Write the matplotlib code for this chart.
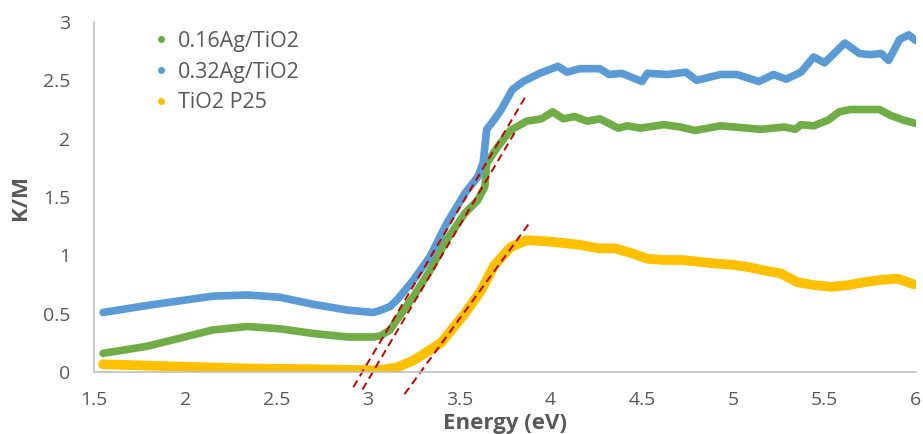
import matplotlib.pyplot as plt
from matplotlib.lines import Line2D

plt.rcParams['font.family'] = ['Open Sans', 'DejaVu Sans']

# 0.16Ag/TiO2 (green)
x_g = [1.55, 1.79, 1.97, 2.15, 2.34, 2.52, 2.70, 2.89, 3.03, 3.07, 3.12, 3.16, 3.25,
       3.34, 3.43, 3.53, 3.60, 3.64, 3.65, 3.71, 3.78, 3.80, 3.87, 3.95, 4.01, 4.07,
       4.13, 4.20, 4.27, 4.37, 4.42, 4.49, 4.62, 4.71, 4.79, 4.93, 5.08, 5.15, 5.28,
       5.34, 5.37, 5.44, 5.52, 5.58, 5.64, 5.74, 5.80, 5.86, 5.93, 6.00]
y_g = [0.16, 0.22, 0.29, 0.36, 0.39, 0.37, 0.33, 0.30, 0.30, 0.31, 0.36, 0.45, 0.65,
       0.87, 1.13, 1.36, 1.47, 1.59, 1.79, 1.93, 2.07, 2.09, 2.15, 2.17, 2.23, 2.17,
       2.19, 2.15, 2.17, 2.09, 2.11, 2.09, 2.12, 2.10, 2.07, 2.11, 2.09, 2.08, 2.10,
       2.08, 2.12, 2.11, 2.16, 2.23, 2.25, 2.25, 2.25, 2.20, 2.16, 2.13]

# 0.32Ag/TiO2 (blue)
x_b = [1.55, 1.79, 1.97, 2.15, 2.34, 2.52, 2.70, 2.89, 3.03, 3.07, 3.12, 3.16, 3.25,
       3.34, 3.43, 3.53, 3.60, 3.62, 3.63, 3.65, 3.69, 3.73, 3.79, 3.85, 3.94, 4.04,
       4.09, 4.16, 4.27, 4.32, 4.39, 4.50, 4.53, 4.64, 4.74, 4.80, 4.93, 5.02, 5.14,
       5.22, 5.29, 5.37, 5.44, 5.50, 5.61, 5.69, 5.75, 5.81, 5.85, 5.91, 5.96, 6.00]
y_b = [0.51, 0.57, 0.61, 0.65, 0.66, 0.64, 0.58, 0.53, 0.51, 0.53, 0.56, 0.62, 0.79,
       0.99, 1.27, 1.53, 1.67, 1.75, 1.79, 2.08, 2.16, 2.25, 2.42, 2.49, 2.56, 2.62,
       2.57, 2.60, 2.60, 2.55, 2.56, 2.49, 2.56, 2.55, 2.57, 2.50, 2.55, 2.55, 2.49,
       2.55, 2.51, 2.57, 2.70, 2.65, 2.82, 2.73, 2.72, 2.73, 2.67, 2.85, 2.89, 2.84]

# TiO2 P25 (yellow)
x_y = [1.55, 1.97, 2.34, 2.70, 2.89, 3.03, 3.07, 3.16, 3.25, 3.40, 3.53, 3.62, 3.69,
       3.78, 3.87, 3.98, 4.04, 4.16, 4.26, 4.35, 4.44, 4.53, 4.62, 4.72, 4.81, 4.90,
       4.99, 5.08, 5.17, 5.26, 5.35, 5.44, 5.54, 5.63, 5.72, 5.81, 5.90, 5.99]
y_y = [0.066, 0.046, 0.030, 0.024, 0.018, 0.015, 0.017, 0.04, 0.10, 0.25, 0.50, 0.70,
       0.91, 1.07, 1.13, 1.12, 1.11, 1.09, 1.06, 1.06, 1.02, 0.97, 0.96, 0.96, 0.945,
       0.93, 0.92, 0.90, 0.87, 0.845, 0.77, 0.745, 0.73, 0.745, 0.77, 0.79, 0.80, 0.75]

# tangent lines (x0, x1), (y0, y1)
tangents = [([2.92, 3.87], [-0.13, 2.38]),
            ([2.97, 3.81], [-0.15, 2.07]),
            ([3.20, 3.89], [-0.19, 1.29])]

names = ['0.16Ag/TiO2', '0.32Ag/TiO2', 'TiO2 P25']
colors = ['#70ad47', '#5b9bd5', '#ffc000']

fig = plt.figure(figsize=(9.23, 4.34), dpi=100)
ax = fig.add_axes([0.1018, 0.1429, 0.8906, 0.8064])

ax.plot(x_g, y_g, color=colors[0], lw=5.5, solid_capstyle='round', solid_joinstyle='round')
ax.plot(x_b, y_b, color=colors[1], lw=5.5, solid_capstyle='round', solid_joinstyle='round')
ax.plot(x_y, y_y, color=colors[2], lw=7, solid_capstyle='round', solid_joinstyle='round')

for tx, ty in tangents:
    ax.plot(tx, ty, color='#c00000', lw=1.4, ls=(0, (4, 2.5)), clip_on=False)

ax.set_xlim(1.5, 6)
ax.set_ylim(0, 3)
ax.set_xticks([1.5, 2, 2.5, 3, 3.5, 4, 4.5, 5, 5.5, 6])
ax.set_xticklabels(['1.5', '2', '2.5', '3', '3.5', '4', '4.5', '5', '5.5', '6'])
ax.set_yticks([0, 0.5, 1, 1.5, 2, 2.5, 3])
ax.set_yticklabels(['0', '0.5', '1', '1.5', '2', '2.5', '3'])
ax.tick_params(length=0, labelsize=14, labelcolor='#595959')
ax.tick_params(axis='x', pad=14)
ax.tick_params(axis='y', pad=17)
for s in ['top', 'right']:
    ax.spines[s].set_visible(False)
for s in ['left', 'bottom']:
    ax.spines[s].set_color('#bfbfbf')
    ax.spines[s].set_linewidth(1.2)

fig.text(505 / 923, 1 - 413 / 434, 'Energy (eV)', ha='center', va='top',
         fontsize=16, fontweight='bold', color='#595959')
fig.text(20 / 923, 1 - 197 / 434, 'K/M', ha='center', va='center', rotation=90,
         fontsize=16, fontweight='bold', color='#595959')

handles = [Line2D([], [], ls='none', marker='o', markersize=4, color=c) for c in colors]
ax.legend(handles, names, loc='upper left', bbox_to_anchor=(0.045, 1.03), frameon=False,
          fontsize=15.5, labelcolor='#595959', handletextpad=0.3, labelspacing=0.45,
          handlelength=1.0)

fig.savefig('out.png', dpi=100)
